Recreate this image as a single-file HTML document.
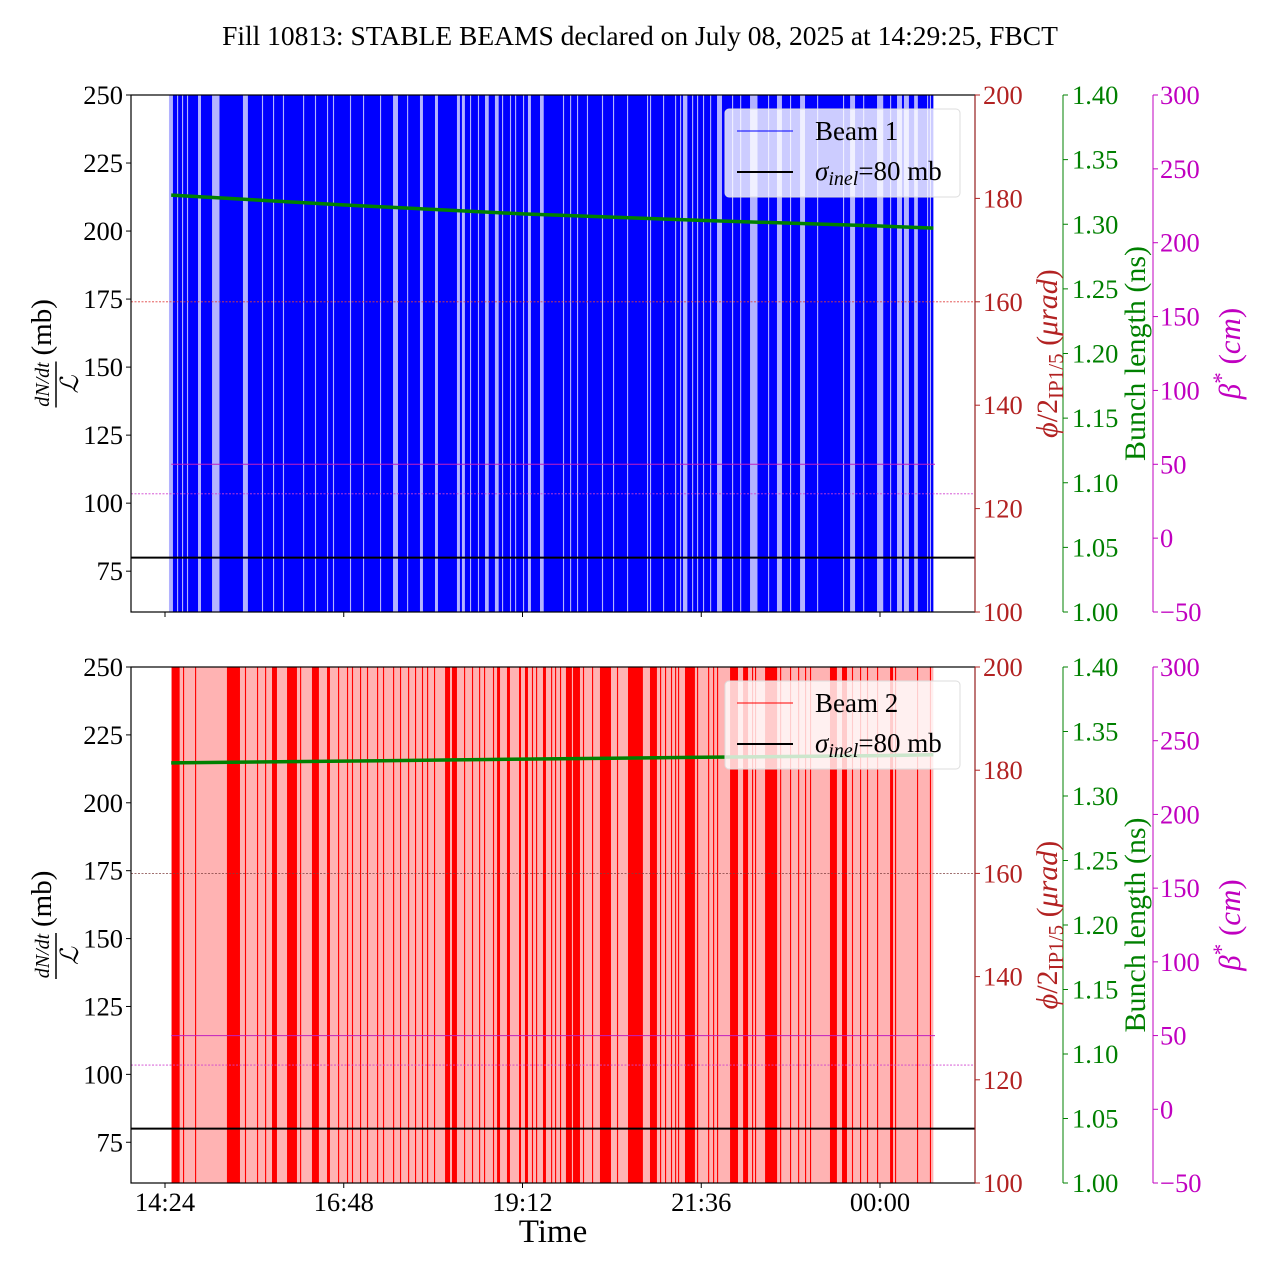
<!DOCTYPE html>
<html><head><meta charset="utf-8"><style>
html,body{margin:0;padding:0;background:#fff;}
svg{display:block;font-family:"Liberation Serif","DejaVu Serif",serif;}
</style></head><body>
<svg id="chart" width="1280" height="1280" viewBox="0 0 1280 1280" xmlns="http://www.w3.org/2000/svg">
<defs>
<clipPath id="c1"><rect x="131" y="95" width="844" height="517"/></clipPath>
<clipPath id="c2"><rect x="131" y="667" width="844" height="516"/></clipPath>
</defs>
<text x="640" y="45" font-size="27.5" text-anchor="middle">Fill 10813: STABLE BEAMS declared on July 08, 2025 at 14:29:25, FBCT</text>
<g id="g1" clip-path="url(#c1)"></g>
<g id="g2" clip-path="url(#c2)"></g>
<g id="axes"></g>
<text x="553" y="1242" font-size="33" text-anchor="middle">Time</text>
</svg>
<script>
// ---- data (time in minutes since 14:24) ----
const xTickLabels = ["14:24","16:48","19:12","21:36","00:00"];
const xTickMinutes = [0,144,288,432,576];
const dataStart = 5, dataEnd = 619;
const leftTicks = [75,100,125,150,175,200,225,250];
const phiTicks = [100,120,140,160,180,200];
const blTicks = [1.00,1.05,1.10,1.15,1.20,1.25,1.30,1.35,1.40];
const betaTicks = [-50,0,50,100,150,200,250,300];
const sigmaInel = 80;
const phiRef = 160;
const betaRef = [50,30];
// beam 1 pale gaps (start minute, width minute)
const b1GapStart = [3.2,9.7,13.7,17.7,26.6,37.9,62.8,78.1,87,95,111.2,120.8,130.5,135.3,149,159.5,173.2,183.7,195,205.4,217.5,235.2,239.2,245.7,252.1,257.8,265.8,271.5,277.9,282,288.4,292.4,302.1,320.6,326.3,331.9,339.9,352,360.9,372.2,388.3,390.7,401.2,410.9,414.9,417.3,424.6,428.6,433.4,439.1,444.7,456.8,463.3,471.3,485.8,493,503.5,511.6,525.3,546.2,551.9,562.4,573.6,584.1,589.7,595.3,603.5,613.9,616.2];
const b1GapWidth = [3.2,0.9,0.9,0.9,2.4,6,4,0.9,0.9,0.9,0.9,0.9,0.9,0.9,0.9,0.9,0.9,4,0.9,2.4,2.4,2.4,2.4,0.9,0.9,3,3,0.9,0.9,0.9,0.9,2.4,3,0.9,0.9,0.9,0.9,0.9,0.9,0.9,0.9,0.9,0.9,0.9,0.9,3.5,0.9,0.9,0.9,0.9,4,0.9,0.9,6,0.9,4,0.9,4,0.9,0.9,4,0.9,5,0.9,4,4,3,0.9,0.9];
// beam 2 strong stripes (start minute, width minute)
const b2StripeStart = [5.4,14.5,24.2,49.9,64.4,74.1,80.6,86.2,98.3,108.8,118.4,130.5,139.4,146.6,150.6,157.1,162.7,170.8,175.6,183.7,189.3,195.8,201.4,207,211.1,216.7,225.6,231.2,240.9,247.3,253,257,264.2,267.5,275.5,285.2,290,295.6,298.9,304.5,311,314.2,318.2,323,328.7,336.7,344,350.4,364.1,373,390.7,398.8,402.8,407.6,410.9,413.3,418.9,428.6,437.5,441.5,444.7,455.2,465.7,472.9,475.3,483.4,495.5,503.5,510,515.6,519.6,535.7,545.4,553.4,559.9,565.5,573.6,584.1,588.1,605.8,616.2];
const b2StripeWidth = [6.4,0.9,0.9,10.5,0.9,0.9,0.9,4,8,0.9,5.6,2.4,0.9,0.9,0.9,0.9,0.9,0.9,0.9,0.9,0.9,0.9,0.9,0.9,0.9,0.9,4,4,0.9,0.9,0.9,0.9,0.9,2.4,2.4,1.6,2.4,0.9,0.9,2.4,0.9,0.9,0.9,4.8,5.6,0.9,0.9,8.9,0.9,12,5.6,0.9,0.9,0.9,0.9,0.9,8,0.9,0.9,0.9,0.9,6.4,4,0.9,0.9,9.7,0.9,0.9,0.9,0.9,0.9,5.6,4,0.9,0.9,0.9,0.9,2.4,0.9,0.9,0.9];
// bunch length
const blTimes = [5,143,288,432,576,619];
const bl1 = [1.3225,1.315,1.308,1.303,1.2986,1.297];
const bl2 = [1.3257,1.327,1.3286,1.330,1.3313,1.332];

// ---- scales ----
const X0=131,X1=975;
const xs = m => 165 + m*(178.75/144);
const panels = [{top:95,bot:612},{top:667,bot:1183}];
const yL = (v,p)=> p.bot - (v-60)/(250-60)*(p.bot-p.top);
const yPhi = (v,p)=> p.bot - (v-100)/100*(p.bot-p.top);
const yBl = (v,p)=> p.bot - (v-1.0)/0.4*(p.bot-p.top);
const yBeta = (v,p)=> p.bot - (v+50)/350*(p.bot-p.top);
const NS="http://www.w3.org/2000/svg";
function mk(tag, parent, attrs){const e=document.createElementNS(NS,tag);for(const k in attrs)e.setAttribute(k,attrs[k]);parent.appendChild(e);return e;}
const axes=document.getElementById('axes');
const FS=26.5;

panels.forEach((p,i)=>{
  const g=document.getElementById(i===0?'g1':'g2');
  const strong=i===0?'#0000ff':'#ff0000', pale=i===0?'#b3b3ff':'#ffb3b3';
  const base=mk('rect',g,{x:xs(dataStart),y:p.top,width:xs(dataEnd)-xs(dataStart),height:p.bot-p.top,fill:i===0?strong:pale});
  
  
  const st=i===0?b1GapStart:b2StripeStart, wd=i===0?b1GapWidth:b2StripeWidth;
  st.forEach((s,k)=>{
    const r=mk('rect',g,{x:xs(s),y:p.top,width:Math.max(1,xs(s+wd[k])-xs(s)),height:p.bot-p.top,fill:i===0?pale:strong});
    
    
  });
  let l=mk('line',g,{x1:X0,x2:X1,y1:yPhi(phiRef,p),y2:yPhi(phiRef,p),stroke:i===0?'#e04040':'#804040','stroke-width':0.8,'stroke-dasharray':'2,1.5'});
  
  
  l=mk('line',g,{x1:xs(dataStart),x2:X1-40,y1:yBeta(betaRef[0],p),y2:yBeta(betaRef[0],p),stroke:'#c020c0','stroke-width':1});
  
  
  l=mk('line',g,{x1:X0,x2:X1,y1:yBeta(betaRef[1],p),y2:yBeta(betaRef[1],p),stroke:'#d040d0','stroke-width':0.8,'stroke-dasharray':'2,1.5'});
  
  
  l=mk('line',g,{x1:X0,x2:X1,y1:yL(sigmaInel,p),y2:yL(sigmaInel,p),stroke:'#000','stroke-width':2});
  
  
  const bl=i===0?bl1:bl2;
  const pts=blTimes.map((t,k)=>xs(t)+','+yBl(bl[k],p)).join(' ');
  l=mk('polyline',g,{points:pts,fill:'none',stroke:'#008000','stroke-width':3.5});
  
  

  const fr=mk('rect',axes,{x:X0,y:p.top,width:X1-X0,height:p.bot-p.top,fill:'none',stroke:'#000','stroke-width':1.2});
  
  
  leftTicks.forEach(v=>{
    const y=yL(v,p);
    mk('line',axes,{x1:X0-5,x2:X0,y1:y,y2:y,stroke:'#000','stroke-width':1});
    const t=mk('text',axes,{x:X0-8,y:y+9,'font-size':FS,'text-anchor':'end'});t.textContent=v;
    
    
  });
  xTickMinutes.forEach((m,k)=>{
    mk('line',axes,{x1:xs(m),x2:xs(m),y1:p.bot,y2:p.bot+5,stroke:'#000','stroke-width':1});
    if(i===1){const t=mk('text',axes,{x:xs(m),y:p.bot+28,'font-size':FS,'text-anchor':'middle'});t.textContent=xTickLabels[k];
      
      }
  });
  mk('line',axes,{x1:X1,x2:X1,y1:p.top,y2:p.bot,stroke:'#b22222','stroke-width':1});
  phiTicks.forEach(v=>{const y=yPhi(v,p);mk('line',axes,{x1:X1,x2:X1+5,y1:y,y2:y,stroke:'#b22222'});
    const t=mk('text',axes,{x:X1+8,y:y+9,'font-size':FS,fill:'#b22222'});t.textContent=v;
    
    });
  const xb=1063;
  mk('line',axes,{x1:xb,x2:xb,y1:p.top,y2:p.bot,stroke:'#008000','stroke-width':1});
  blTicks.forEach(v=>{const y=yBl(v,p);mk('line',axes,{x1:xb,x2:xb+5,y1:y,y2:y,stroke:'#008000'});
    const t=mk('text',axes,{x:xb+9,y:y+9,'font-size':FS,fill:'#008000'});t.textContent=v.toFixed(2);
    
    });
  const xm=1153;
  mk('line',axes,{x1:xm,x2:xm,y1:p.top,y2:p.bot,stroke:'#c000c0','stroke-width':1});
  betaTicks.forEach(v=>{const y=yBeta(v,p);mk('line',axes,{x1:xm,x2:xm+5,y1:y,y2:y,stroke:'#c000c0'});
    const t=mk('text',axes,{x:xm+7,y:y+9,'font-size':FS,fill:'#c000c0'});t.textContent=(v<0?'\u2212'+(-v):v);
    
    });
  const cy=(p.top+p.bot)/2;
  let t=mk('text',axes,{transform:`translate(1057,${cy}) rotate(-90)`,'font-size':30,'text-anchor':'middle',fill:'#b22222'});
  t.innerHTML='<tspan font-style="italic">ϕ</tspan>/2<tspan font-size="21" dy="6">IP1/5</tspan><tspan dy="-6"> (</tspan><tspan font-style="italic">μrad</tspan>)';
  
  
  t=mk('text',axes,{transform:`translate(1145,${cy}) rotate(-90)`,'font-size':30,'text-anchor':'middle',fill:'#008000'});
  t.textContent='Bunch length (ns)';
  
  
  t=mk('text',axes,{transform:`translate(1240,${cy}) rotate(-90)`,'font-size':31,'text-anchor':'middle',fill:'#c000c0'});
  t.innerHTML='<tspan font-style="italic">β</tspan><tspan dy="-11" font-size="23">*</tspan><tspan dy="11"> (</tspan><tspan font-style="italic">cm</tspan>)';
  
  
  const lg=mk('g',axes,{transform:`translate(56,${cy+2}) rotate(-90)`});
  
  
  let a=mk('text',lg,{x:-29,y:-7,'font-size':20,'font-style':'italic','text-anchor':'middle'});a.textContent='dN/dt';
  mk('line',lg,{x1:-52,x2:-6,y1:0,y2:0,stroke:'#000','stroke-width':1.5});
  a=mk('text',lg,{x:-29,y:22,'font-size':25,'font-style':'italic','text-anchor':'middle'});a.textContent='ℒ';
  a=mk('text',lg,{x:0,y:-5,'font-size':29});a.textContent='(mb)';
  const ly=p.top+14;
  const lgd=mk('g',axes,{});
  
  
  mk('rect',lgd,{x:725,y:ly,width:235,height:88,rx:4,fill:'#fff','fill-opacity':0.8,stroke:'#ddd'});
  mk('line',lgd,{x1:737,x2:793,y1:ly+22,y2:ly+22,stroke:strong,'stroke-width':1});
  a=mk('text',lgd,{x:815,y:ly+31,'font-size':27});a.textContent=i===0?'Beam 1':'Beam 2';
  mk('line',lgd,{x1:737,x2:793,y1:ly+63,y2:ly+63,stroke:'#000','stroke-width':2});
  a=mk('text',lgd,{x:815,y:ly+71,'font-size':27});
  a.innerHTML='<tspan font-style="italic">σ</tspan><tspan font-style="italic" font-size="20" dy="5">inel</tspan><tspan dy="-5">=80 mb</tspan>';
});
</script>
</body></html>
